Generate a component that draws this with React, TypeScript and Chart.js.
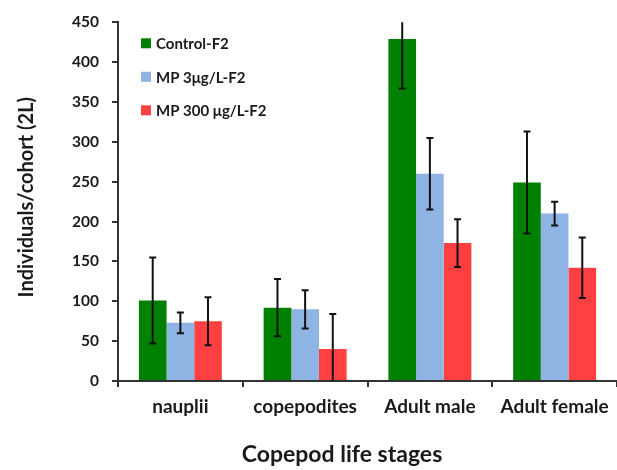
import React, { useEffect, useRef } from "react";
import { Chart, registerables } from "chart.js";

Chart.register(...registerables);

const categories = ["nauplii", "copepodites", "Adult male", "Adult female"];
const seriesLabels = ["Control-F2", "MP 3μg/L-F2", "MP 300 μg/L-F2"];
const seriesColors = ["#008000", "#8DB4E2", "#FF4040"];

const controlValues = [101, 92, 429, 249];
const controlErrors = [54, 36, 62, 64];
const mp3Values = [73, 90, 260, 210];
const mp3Errors = [13, 24, 45, 15];
const mp300Values = [75, 40, 173, 142];
const mp300Errors = [30, 44, 30, 38];

const yMin = 0;
const yMax = 450;
const yStep = 50;

const xTitle = "Copepod life stages";
const yTitle = "Individuals/cohort (2L)";

const FONT = "Lato";
const TEXT = "#1a1a1a";
const AXIS = "#333333";

const errorSets = [controlErrors, mp3Errors, mp300Errors];

const errorBarPlugin = {
  id: "errorBars",
  afterDatasetsDraw(chart: any) {
    const ctx = chart.ctx;
    const ca = chart.chartArea;
    const y = chart.scales.y;
    ctx.save();
    ctx.beginPath();
    ctx.rect(ca.left, ca.top, ca.right - ca.left, ca.bottom - ca.top);
    ctx.clip();
    ctx.strokeStyle = "#111111";
    ctx.lineWidth = 2;
    chart.data.datasets.forEach((ds: any, di: number) => {
      const meta = chart.getDatasetMeta(di);
      meta.data.forEach((bar: any, i: number) => {
        const v = ds.data[i];
        const e = errorSets[di][i];
        const yTop = y.getPixelForValue(v + e);
        const yBot = y.getPixelForValue(v - e);
        const x = bar.x;
        const cap = 3.5;
        ctx.beginPath();
        ctx.moveTo(x, yTop);
        ctx.lineTo(x, yBot);
        ctx.moveTo(x - cap, yTop);
        ctx.lineTo(x + cap, yTop);
        ctx.moveTo(x - cap, yBot);
        ctx.lineTo(x + cap, yBot);
        ctx.stroke();
      });
    });
    ctx.restore();
  },
};

const legendAndTitlesPlugin = {
  id: "customLegendTitles",
  afterDraw(chart: any) {
    const ctx = chart.ctx;
    const ca = chart.chartArea;
    ctx.save();
    ctx.font = `bold 15px ${FONT}`;
    ctx.textBaseline = "middle";
    ctx.textAlign = "left";
    chart.data.datasets.forEach((ds: any, i: number) => {
      const cy = ca.top + 21 + i * 33.5;
      ctx.fillStyle = ds.backgroundColor;
      ctx.fillRect(ca.left + 23, cy - 5, 10, 10);
      ctx.fillStyle = TEXT;
      ctx.fillText(ds.label, ca.left + 38, cy + 1);
    });

    // axis titles
    ctx.fillStyle = TEXT;
    ctx.textAlign = "center";
    ctx.textBaseline = "alphabetic";
    ctx.font = `bold 23px ${FONT}`;
    ctx.fillText(xTitle, ca.left + 224, chart.height - 8.5);

    ctx.font = `bold 20px ${FONT}`;
    ctx.translate(33, (ca.top + ca.bottom) / 2 - 4.5);
    ctx.rotate(-Math.PI / 2);
    ctx.fillText(yTitle, 0, 0);
    ctx.restore();
  },
};

export default function App() {
  const ref = useRef<HTMLCanvasElement>(null);

  useEffect(() => {
    document.body.style.margin = "0";
    const values = [controlValues, mp3Values, mp300Values];
    const chart = new Chart(ref.current as HTMLCanvasElement, {
      type: "bar",
      data: {
        labels: categories,
        datasets: seriesLabels.map((label, i) => ({
          label,
          data: values[i],
          backgroundColor: seriesColors[i],
          borderWidth: 0,
          categoryPercentage: 0.665,
          barPercentage: 1,
        })),
      },
      options: {
        responsive: false,
        animation: false,
        layout: { padding: { top: 15, left: 0, right: 0, bottom: 0 } },
        plugins: {
          legend: { display: false },
          tooltip: { enabled: false },
        },
        scales: {
          x: {
            offset: true,
            grid: {
              offset: true,
              drawOnChartArea: false,
              drawTicks: true,
              tickLength: 6,
              color: AXIS,
              lineWidth: 2,
            },
            border: { display: true, color: AXIS, width: 2 },
            ticks: {
              color: TEXT,
              font: { family: FONT, size: 19, weight: "bold" },
              padding: 8,
              maxRotation: 0,
            },
            title: { display: false },
            afterFit(scale: any) {
              scale.height = 89;
            },
          },
          y: {
            min: yMin,
            max: yMax,
            ticks: {
              stepSize: yStep,
              color: TEXT,
              font: { family: FONT, size: 15.5, weight: "bold" },
              padding: 13,
            },
            grid: {
              drawOnChartArea: false,
              drawTicks: true,
              tickLength: 6,
              color: AXIS,
              lineWidth: 2,
            },
            border: { display: true, color: AXIS, width: 2 },
            title: { display: false },
            afterFit(scale: any) {
              scale.width = 118;
            },
          },
        },
      },
      plugins: [errorBarPlugin, legendAndTitlesPlugin],
    } as any);
    return () => chart.destroy();
  }, []);

  return (
    <canvas
      ref={ref}
      width={617}
      height={470}
      style={{ display: "block", width: "617px", height: "470px" }}
    />
  );
}
